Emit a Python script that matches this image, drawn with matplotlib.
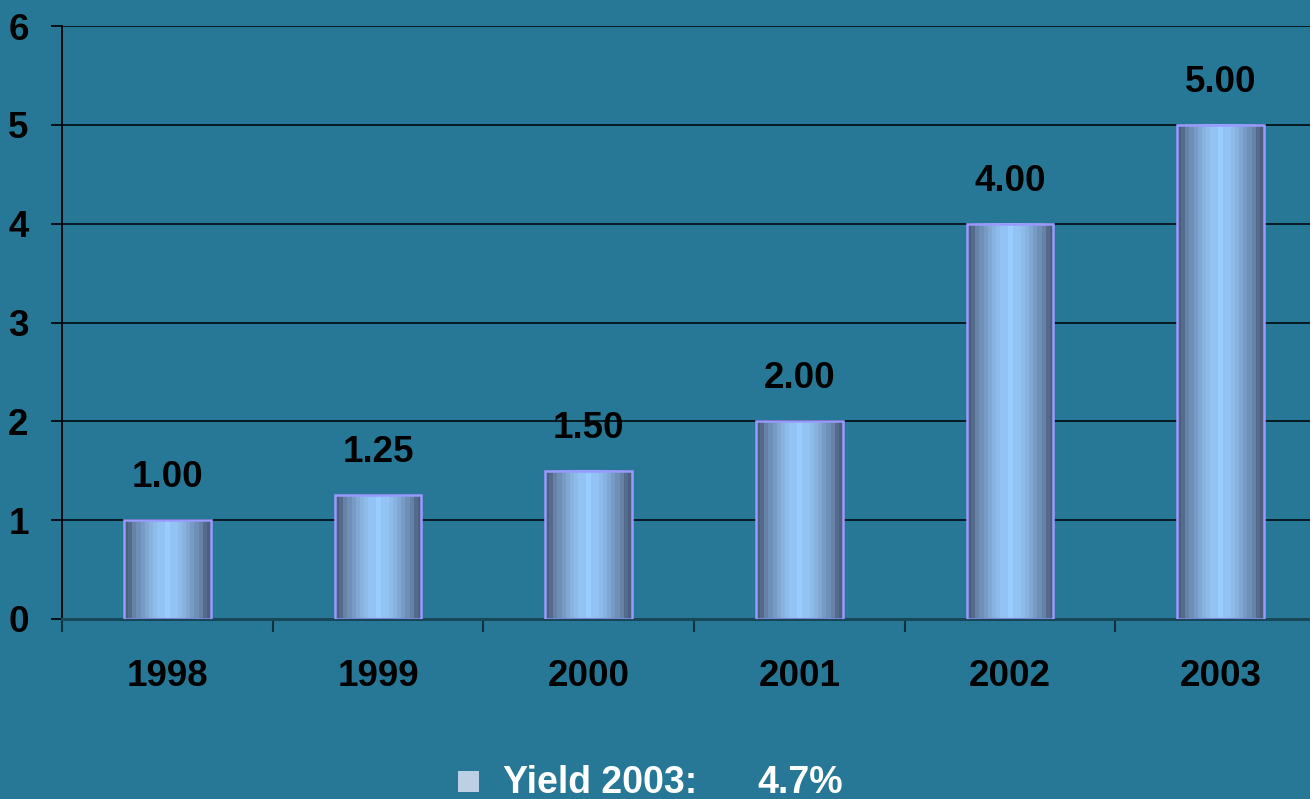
import numpy as np
import matplotlib.pyplot as plt
from matplotlib.colors import LinearSegmentedColormap
from matplotlib.patches import Rectangle

years = ['1998', '1999', '2000', '2001', '2002', '2003']
values = [1.00, 1.25, 1.50, 2.00, 4.00, 5.00]
legend_parts = ['Yield 2003:', '4.7%']

bg = '#277896'
plt.rcParams['font.family'] = ['Liberation Sans', 'DejaVu Sans']
plt.rcParams['font.weight'] = 'bold'

fig = plt.figure(figsize=(13.1, 7.99), dpi=100, facecolor=bg)
# plot area runs a little past the right edge of the picture
ax = fig.add_axes([62 / 1310, 180 / 799, 1264 / 1310, 593 / 799])
ax.set_facecolor(bg)

x = np.arange(len(years))
width = 0.41
fs = 26.5

ax.set_yticks(range(0, 7))
ax.yaxis.grid(True, color='black', linewidth=1.1)
ax.set_axisbelow(True)

# stepped cylinder-like shading, dark at edges, light in the middle
cmap = LinearSegmentedColormap.from_list('bar', ['#99ccff', '#86b0dc', '#6a88ad', '#4c5f7d'])
shade = np.abs(np.linspace(-1, 1, 21)) ** 1.3
shade = np.round(shade * 10) / 10

for xi, v in zip(x, values):
    ax.imshow(shade[np.newaxis, :], cmap=cmap, aspect='auto', vmin=0, vmax=1,
              extent=(xi - width / 2, xi + width / 2, 0, v), interpolation='nearest', zorder=2)
    ax.add_patch(Rectangle((xi - width / 2, 0), width, v, fill=False,
                           edgecolor='#9999ff', linewidth=1.8, zorder=3))
    ax.annotate(f'{v:.2f}', (xi, v), xytext=(0, 18), textcoords='offset points',
                ha='center', va='bottom', fontsize=fs, fontweight='bold', color='black')

ax.set_xlim(-0.5, len(years) - 0.5)
ax.set_ylim(0, 6)

ax.set_xticks(x)
ax.set_xticklabels(years, fontsize=fs, fontweight='bold')
ax.set_xticks(np.arange(-0.5, len(years)), minor=True)
ax.tick_params(axis='x', which='major', length=0, pad=29)
ax.tick_params(axis='x', which='minor', length=9, width=1.5, color='#10303c')
ax.tick_params(axis='y', length=8, width=1.2, color='black', pad=16, labelsize=fs)

for side in ['top', 'right']:
    ax.spines[side].set_visible(False)
ax.spines['left'].set_color('black')
ax.spines['left'].set_linewidth(1.3)
ax.spines['bottom'].set_color('#17485a')
ax.spines['bottom'].set_linewidth(2.2)

# legend at the bottom edge
fig.patches.append(Rectangle((458 / 1310, 7 / 799), 21 / 1310, 21 / 799,
                             transform=fig.transFigure, facecolor='#bccfe4', edgecolor='none'))
fig.text(503 / 1310, 6 / 799, legend_parts[0], fontsize=27, fontweight='bold',
         color='white', ha='left', va='baseline')
fig.text(757 / 1310, 6 / 799, legend_parts[1], fontsize=27, fontweight='bold',
         color='white', ha='left', va='baseline')

fig.savefig('out.png', dpi=100, facecolor=bg)
